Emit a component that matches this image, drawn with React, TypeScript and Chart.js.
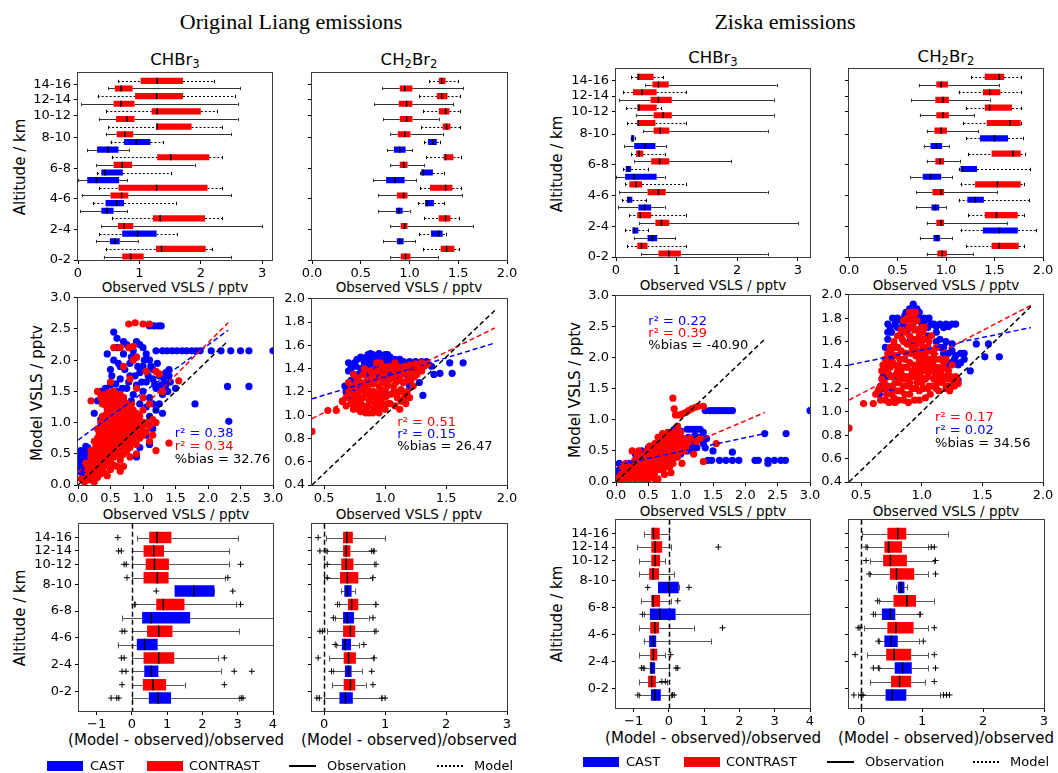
import React, { useEffect, useRef } from 'react';
import { Chart, registerables } from 'chart.js';

Chart.register(...registerables);

const FONT = "'DejaVu Sans', Verdana, sans-serif";
const SERIF = "'Liberation Serif', 'Times New Roman', serif";
const RED = '#ff0000';
const BLUE = '#0000ff';
const SPINE = '#3c3c3c';

// ---------- categorical layout data ----------
const altitudeLabels = ['0-2', '2-4', '4-6', '6-8', '8-10', '10-12', '12-14', '14-16'];
const topTickPositions = [-0.45, 3.55, 7.55, 11.55, 15.55, 18.5, 20.5, 22.5];
const biasTickPositions = [0.5, 2.5, 4.5, 6.5, 8.5, 10, 11, 12];
// boxes bottom -> top in the concentration panels
const topCampaign = ['CONTRAST', 'CONTRAST', 'CAST', 'CAST', 'CONTRAST', 'CONTRAST', 'CAST', 'CAST',
  'CONTRAST', 'CONTRAST', 'CAST', 'CAST', 'CONTRAST', 'CONTRAST', 'CAST', 'CAST',
  'CONTRAST', 'CONTRAST', 'CONTRAST', 'CONTRAST', 'CONTRAST', 'CONTRAST', 'CONTRAST', 'CONTRAST'];
const topSource = ['obs', 'model', 'obs', 'model', 'obs', 'model', 'obs', 'model', 'obs', 'model', 'obs', 'model',
  'obs', 'model', 'obs', 'model', 'obs', 'model', 'obs', 'model', 'obs', 'model', 'obs', 'model'];
// boxes bottom -> top in the bias panels
const biasCampaign = ['CAST', 'CONTRAST', 'CAST', 'CONTRAST', 'CAST', 'CONTRAST', 'CAST', 'CONTRAST',
  'CAST', 'CONTRAST', 'CONTRAST', 'CONTRAST', 'CONTRAST'];

// ---------- box statistics: [whiskerLow, q1, median, q3, whiskerHigh] ----------
const liangCHBr3Boxes = [
  [0.42, 0.72, 0.86, 1.07, 2.5], [0.45, 1.27, 1.36, 2.08, 2.18], [0.3, 0.52, 0.6, 0.68, 0.98], [0.35, 0.72, 0.97, 1.28, 1.62],
  [0.38, 0.65, 0.75, 0.9, 3.0], [0.55, 1.22, 1.34, 2.07, 2.35], [0.04, 0.38, 0.47, 0.58, 0.8], [0.25, 0.45, 0.63, 0.75, 1.6],
  [0.06, 0.53, 0.71, 0.82, 2.5], [0.35, 0.66, 1.28, 2.11, 2.35], [0.0, 0.15, 0.3, 0.67, 0.8], [0.31, 0.38, 0.44, 0.73, 1.52],
  [0.3, 0.58, 0.72, 0.88, 1.9], [0.55, 1.29, 1.51, 2.14, 2.35], [0.15, 0.31, 0.49, 0.66, 0.83], [0.53, 0.75, 0.95, 1.18, 1.39],
  [0.45, 0.63, 0.76, 0.9, 2.49], [0.49, 1.27, 1.29, 1.85, 2.35], [0.34, 0.62, 0.8, 0.92, 2.6], [0.46, 1.2, 1.29, 2.0, 2.27],
  [0.05, 0.58, 0.7, 0.92, 2.6], [0.32, 0.93, 1.28, 1.71, 2.55], [0.49, 0.6, 0.7, 0.89, 2.64], [0.65, 1.02, 1.29, 1.71, 2.22],
];
const liangCH2Br2Boxes = [
  [0.8, 0.91, 0.96, 1.01, 1.29], [1.14, 1.32, 1.38, 1.46, 1.51], [0.73, 0.87, 0.9, 0.94, 1.06], [1.1, 1.22, 1.3, 1.34, 1.37],
  [0.8, 0.91, 0.95, 0.98, 1.65], [1.15, 1.3, 1.37, 1.42, 1.51], [0.68, 0.86, 0.89, 0.93, 1.0], [1.09, 1.16, 1.18, 1.25, 1.35],
  [0.68, 0.87, 0.94, 0.98, 1.54], [1.11, 1.21, 1.37, 1.44, 1.53], [0.63, 0.76, 0.85, 0.95, 1.07], [1.11, 1.12, 1.14, 1.24, 1.35],
  [0.8, 0.9, 0.94, 0.98, 1.15], [1.17, 1.35, 1.37, 1.45, 1.53], [0.77, 0.84, 0.9, 0.96, 1.03], [1.15, 1.19, 1.24, 1.28, 1.31],
  [0.8, 0.88, 0.95, 1.01, 1.34], [1.12, 1.34, 1.38, 1.42, 1.52], [0.73, 0.9, 0.97, 1.03, 1.3], [1.14, 1.3, 1.37, 1.41, 1.52],
  [0.64, 0.89, 0.97, 1.03, 1.45], [1.1, 1.28, 1.33, 1.39, 1.52], [0.72, 0.9, 0.95, 1.03, 1.55], [1.2, 1.3, 1.33, 1.37, 1.5],
];
const ziskaCHBr3Boxes = [
  [0.42, 0.7, 0.87, 1.07, 2.5], [0.18, 0.35, 0.42, 0.52, 1.15], [0.3, 0.52, 0.6, 0.68, 0.98], [0.15, 0.27, 0.3, 0.37, 0.52],
  [0.38, 0.65, 0.75, 0.88, 3.0], [0.22, 0.35, 0.4, 0.58, 1.15], [0.03, 0.37, 0.47, 0.58, 0.8], [0.1, 0.18, 0.21, 0.27, 0.5],
  [0.05, 0.52, 0.7, 0.82, 2.5], [0.15, 0.22, 0.33, 0.43, 1.15], [0.0, 0.15, 0.3, 0.67, 0.8], [0.12, 0.16, 0.2, 0.25, 0.52],
  [0.3, 0.58, 0.72, 0.88, 1.9], [0.25, 0.33, 0.38, 0.45, 0.8], [0.13, 0.3, 0.48, 0.65, 0.82], [0.24, 0.25, 0.27, 0.3, 0.31],
  [0.45, 0.62, 0.73, 0.88, 2.5], [0.18, 0.35, 0.37, 0.65, 1.15], [0.33, 0.62, 0.78, 0.92, 2.6], [0.17, 0.35, 0.38, 0.67, 0.75],
  [0.05, 0.57, 0.7, 0.92, 2.6], [0.12, 0.28, 0.43, 0.67, 1.15], [0.48, 0.6, 0.7, 0.87, 2.65], [0.25, 0.35, 0.37, 0.62, 0.78],
];
const ziskaCH2Br2Boxes = [
  [0.8, 0.91, 0.96, 1.01, 1.28], [1.21, 1.47, 1.55, 1.75, 1.8], [0.73, 0.87, 0.91, 0.94, 1.06], [1.15, 1.38, 1.55, 1.74, 1.93],
  [0.8, 0.9, 0.95, 0.98, 1.63], [1.23, 1.4, 1.52, 1.74, 1.8], [0.69, 0.85, 0.89, 0.93, 1.0], [1.13, 1.22, 1.3, 1.39, 1.86],
  [0.69, 0.86, 0.95, 0.98, 1.53], [1.15, 1.3, 1.53, 1.77, 1.8], [0.63, 0.76, 0.84, 0.95, 1.06], [1.13, 1.15, 1.17, 1.32, 1.87],
  [0.8, 0.89, 0.94, 0.98, 1.14], [1.23, 1.47, 1.69, 1.77, 1.81], [0.77, 0.84, 0.9, 0.96, 1.03], [1.21, 1.35, 1.5, 1.64, 1.79],
  [0.8, 0.88, 0.95, 1.01, 1.33], [1.18, 1.42, 1.66, 1.77, 1.77], [0.73, 0.9, 0.97, 1.03, 1.29], [1.21, 1.4, 1.45, 1.68, 1.77],
  [0.64, 0.89, 0.97, 1.03, 1.45], [1.13, 1.38, 1.45, 1.56, 1.77], [0.72, 0.9, 0.95, 1.02, 1.55], [1.26, 1.4, 1.55, 1.6, 1.77],
];

const liangCHBr3BiasBoxes = [
  [0.0, 0.48, 0.74, 1.11, 3.05], [0.0, 0.31, 0.6, 0.97, 1.5], [0.0, 0.35, 0.55, 0.75, 2.52], [0.0, 0.33, 0.76, 1.2, 2.45],
  [-0.4, 0.14, 0.36, 0.73, 4.3], [0.0, 0.43, 0.76, 1.15, 3.05], [-0.28, 0.29, 0.55, 1.65, 4.3], [0.1, 0.69, 0.89, 1.49, 2.95],
  [1.21, 1.21, 1.76, 2.34, 2.34], [0.0, 0.33, 0.72, 1.04, 2.65], [0.0, 0.39, 0.64, 1.05, 2.76], [0.0, 0.33, 0.62, 0.91, 2.76],
  [0.14, 0.49, 0.71, 1.12, 3.02],
];
const liangCH2Br2BiasBoxes = [
  [0.0, 0.25, 0.35, 0.47, 0.93], [0.13, 0.32, 0.43, 0.51, 0.68], [0.15, 0.34, 0.4, 0.45, 0.62], [0.08, 0.32, 0.4, 0.52, 0.8],
  [0.2, 0.29, 0.34, 0.44, 0.57], [0.05, 0.31, 0.43, 0.51, 0.82], [0.17, 0.31, 0.38, 0.49, 0.73], [0.24, 0.39, 0.45, 0.56, 0.83],
  [0.27, 0.33, 0.38, 0.45, 0.5], [0.0, 0.26, 0.38, 0.56, 0.78], [0.0, 0.28, 0.36, 0.48, 0.82], [0.05, 0.31, 0.36, 0.43, 0.8],
  [0.03, 0.31, 0.37, 0.47, 1.0],
];
const ziskaCHBr3BiasBoxes = [
  [-0.85, -0.51, -0.4, -0.23, 0.05], [-0.85, -0.59, -0.49, -0.37, -0.05], [-0.7, -0.54, -0.49, -0.39, 0.0], [-0.85, -0.53, -0.44, -0.33, -0.1],
  [-0.72, -0.56, -0.44, -0.36, 1.2], [-0.85, -0.53, -0.4, -0.28, 0.7], [-0.7, -0.54, -0.26, 0.19, 4.3], [-0.8, -0.5, -0.45, -0.25, 0.05],
  [-0.31, -0.31, 0.0, 0.28, 0.28], [-0.85, -0.56, -0.45, -0.28, 0.15], [-0.85, -0.5, -0.39, -0.25, -0.1], [-0.9, -0.5, -0.39, -0.19, 0.05],
  [-0.7, -0.5, -0.44, -0.26, 0.0],
];
const ziskaCH2Br2BiasBoxes = [
  [-0.05, 0.4, 0.51, 0.74, 1.3], [0.15, 0.49, 0.63, 0.82, 1.05], [0.3, 0.55, 0.68, 0.83, 1.1], [0.1, 0.41, 0.54, 0.82, 1.1],
  [0.3, 0.38, 0.49, 0.6, 0.95], [0.05, 0.43, 0.57, 0.86, 1.1], [0.22, 0.34, 0.48, 0.56, 0.95], [0.3, 0.53, 0.75, 0.9, 1.2],
  [0.57, 0.6, 0.65, 0.71, 0.75], [0.15, 0.47, 0.58, 0.87, 1.1], [0.15, 0.36, 0.48, 0.75, 1.2], [0.1, 0.38, 0.45, 0.67, 1.1],
  [0.02, 0.43, 0.6, 0.74, 1.42],
];

// ---------- outliers: [value, box index] pairs ----------
const liangCHBr3BiasOutliers = [-0.59, 0, -0.43, 0, -0.37, 0, 3.1, 0, 3.15, 0, -0.28, 1, 2.62, 1, -0.28, 2, -0.17, 2, 2.9, 2, 3.4, 2,
  -0.3, 3, -0.22, 3, 2.62, 3, -0.28, 5, -0.2, 5, 0.07, 7, 3.08, 7, 0.69, 8, 2.86, 8, -0.14, 9, 2.72, 9,
  -0.22, 10, -0.16, 10, 3.08, 10, -0.38, 11, -0.3, 11, -0.4, 12];
const liangCH2Br2BiasOutliers = [-0.12, 0, -0.08, 0, 0.95, 0, 1.0, 0, 0.8, 1, 0.12, 2, 0.78, 2, -0.1, 3, 0.82, 3, 0.18, 4, 0.65, 4,
  -0.07, 5, -0.03, 5, 0.85, 5, 0.15, 6, 0.8, 6, 0.22, 7, 0.85, 7, 0.05, 9, 0.8, 9, 0.05, 10, 0.85, 10,
  -0.07, 11, 0.03, 11, 0.78, 11, 0.82, 11, -0.1, 12];
const ziskaCHBr3BiasOutliers = [-0.88, 0, 0.1, 0, 0.15, 0, -0.2, 1, -0.1, 1, -0.73, 2, -0.78, 2, 0.2, 2, 0.25, 2, 0.05, 3, 1.52, 5,
  -0.75, 6, 0.25, 7, -0.6, 8, 0.57, 8, 1.4, 11];
const ziskaCH2Br2BiasOutliers = [-0.12, 0, 0.0, 0, 0.03, 0, 1.35, 0, 1.4, 0, 1.45, 0, 1.2, 1, 0.2, 2, 0.28, 2, 1.22, 2, -0.1, 3, 1.2, 3,
  0.28, 4, 1.02, 4, -0.05, 5, -0.02, 5, 1.2, 5, 0.2, 6, 0.97, 6, 0.27, 7, 0.13, 9, 1.22, 9, 0.08, 10, 1.22, 10,
  0.08, 11, 1.15, 11, 1.2, 11];

// ---------- scatter data: [observed, model] pairs ----------
const liangCHBr3CastPts = [
  0.02, 0.3, 0.05, 0.42, 0.08, 0.52, 0.1, 0.35, 0.12, 0.45, 0.15, 0.3, 0.18, 0.5, 0.2, 0.38, 0.22, 0.55, 0.25, 0.45, 0.28, 0.32,
  0.3, 0.5, 0.05, 0.2, 0.1, 0.15, 0.15, 0.6, 0.35, 0.4, 0.04, 0.55, 0.12, 0.62,
  0.0, 0.4, 0.03, 0.48, 0.07, 0.38, 0.13, 0.55, 0.17, 0.4, 0.23, 0.38, 0.27, 0.5, 0.33, 0.45, 0.07, 0.25,
  0.4, 0.9, 0.5, 1.1, 0.55, 0.7, 0.7, 1.05, 0.75, 0.6, 0.85, 0.9, 0.95, 0.6, 1.0, 1.0, 1.05, 0.8, 1.1, 1.1, 1.15, 0.9, 1.2, 1.2,
  1.25, 1.3, 1.3, 1.15, 0.9, 0.45, 1.1, 0.65,
  0.3, 1.35, 0.35, 1.5, 0.4, 1.3, 0.45, 1.45, 0.5, 1.6, 0.55, 1.35, 0.6, 1.5, 0.65, 1.7, 0.7, 1.4, 0.75, 1.55, 0.8, 1.75, 0.85, 1.45,
  0.9, 1.6, 0.95, 1.8, 1.0, 1.5, 1.05, 1.65, 1.1, 1.4, 1.15, 1.7, 1.2, 1.55, 1.25, 1.75, 1.3, 1.45, 1.35, 1.6, 1.4, 1.75, 1.05, 1.25,
  0.95, 1.3, 1.15, 1.3, 0.25, 1.15,
  0.52, 1.75, 0.58, 1.62, 0.62, 1.95, 0.68, 1.55, 0.72, 1.85, 0.78, 1.65, 0.82, 2.05, 0.88, 1.75, 0.92, 1.9, 0.98, 1.65, 1.02, 2.0,
  1.08, 1.75, 1.12, 1.9, 1.18, 1.62, 1.22, 1.95, 1.28, 1.6, 1.32, 1.7, 1.38, 1.5, 1.42, 1.65, 0.62, 1.38, 0.72, 1.3, 0.82, 1.35,
  0.48, 1.45, 0.42, 1.55, 0.38, 1.4,
  0.5, 1.85, 0.55, 2.0, 0.6, 2.2, 0.65, 1.9, 0.7, 2.1, 0.75, 2.25, 0.8, 1.95, 0.85, 2.15, 0.9, 2.05, 0.95, 2.25, 1.0, 1.9, 1.05, 2.1,
  1.1, 2.0, 1.15, 1.85, 1.2, 2.15, 0.45, 2.1, 0.6, 2.35, 0.7, 2.3, 0.9, 2.3, 1.0, 2.2,
  1.1, 2.55, 1.17, 2.55, 1.24, 2.55, 1.28, 2.55, 0.55, 2.45,
  1.3, 2.15, 1.37, 2.15, 1.45, 2.15, 1.52, 2.15, 1.6, 2.15, 1.67, 2.15, 1.75, 2.15, 1.82, 2.15, 1.88, 2.15, 2.05, 2.15, 2.2, 2.15,
  2.35, 2.15, 2.5, 2.15, 2.63, 2.15, 3.0, 2.15,
  2.3, 1.58, 2.63, 1.58, 1.8, 1.3, 2.32, 1.02, 1.4, 1.85, 1.35, 1.8, 1.5, 1.55, 0.35, 1.05,
];
const liangCHBr3ContrastPts = [
  0.2, 0.2, 0.2, 0.3, 0.2, 0.35, 0.2, 0.45,
  0.25, 0.15, 0.25, 0.25, 0.25, 0.4, 0.25, 0.55, 0.25, 0.7,
  0.3, 0.2, 0.3, 0.3, 0.3, 0.45, 0.3, 0.6, 0.3, 0.75, 0.3, 0.9,
  0.35, 0.25, 0.35, 0.4, 0.35, 0.5, 0.35, 0.65, 0.35, 0.8, 0.35, 1.0, 0.35, 1.4,
  0.4, 0.3, 0.4, 0.45, 0.4, 0.55, 0.4, 0.7, 0.4, 0.85, 0.4, 1.0, 0.4, 1.35, 0.4, 1.45,
  0.45, 0.35, 0.45, 0.5, 0.45, 0.6, 0.45, 0.75, 0.45, 0.9, 0.45, 1.05, 0.45, 1.2, 0.45, 1.4,
  0.5, 0.4, 0.5, 0.55, 0.5, 0.7, 0.5, 0.8, 0.5, 0.95, 0.5, 1.1, 0.5, 1.3, 0.5, 1.45,
  0.55, 0.45, 0.55, 0.6, 0.55, 0.75, 0.55, 0.9, 0.55, 1.0, 0.55, 1.15, 0.55, 1.35, 0.55, 1.5,
  0.6, 0.5, 0.6, 0.65, 0.6, 0.8, 0.6, 0.95, 0.6, 1.05, 0.6, 1.2, 0.6, 1.4,
  0.65, 0.4, 0.65, 0.6, 0.65, 0.75, 0.65, 0.9, 0.65, 1.0, 0.65, 1.15, 0.65, 1.3, 0.65, 1.45,
  0.7, 0.5, 0.7, 0.7, 0.7, 0.85, 0.7, 1.0, 0.7, 1.1, 0.7, 1.25, 0.7, 1.4,
  0.75, 0.55, 0.75, 0.75, 0.75, 0.9, 0.75, 1.05, 0.75, 1.2, 0.75, 1.3,
  0.8, 0.6, 0.8, 0.8, 0.8, 0.95, 0.8, 1.1, 0.8, 1.25,
  0.85, 0.7, 0.85, 0.9, 0.85, 1.05, 0.85, 1.2,
  0.9, 0.65, 0.9, 0.85, 0.9, 1.0, 0.9, 1.15,
  0.95, 0.75, 0.95, 0.9, 0.95, 1.1,
  1.0, 0.8, 1.0, 0.95, 1.0, 1.2,
  0.225, 0.22, 0.225, 0.38, 0.225, 0.5, 0.275, 0.2, 0.275, 0.33, 0.275, 0.48, 0.275, 0.62,
  0.325, 0.25, 0.325, 0.38, 0.325, 0.52, 0.325, 0.68, 0.325, 0.83,
  0.375, 0.32, 0.375, 0.45, 0.375, 0.58, 0.375, 0.72, 0.375, 0.9, 0.375, 1.1, 0.375, 1.3,
  0.425, 0.38, 0.425, 0.5, 0.425, 0.62, 0.425, 0.78, 0.425, 0.95, 0.425, 1.12, 0.425, 1.28, 0.425, 1.42,
  0.475, 0.42, 0.475, 0.55, 0.475, 0.68, 0.475, 0.85, 0.475, 1.0, 0.475, 1.15, 0.475, 1.32, 0.475, 1.48,
  0.525, 0.48, 0.525, 0.62, 0.525, 0.75, 0.525, 0.88, 0.525, 1.02, 0.525, 1.2, 0.525, 1.38,
  0.575, 0.52, 0.575, 0.68, 0.575, 0.82, 0.575, 0.97, 0.575, 1.1, 0.575, 1.25, 0.575, 1.42,
  0.625, 0.55, 0.625, 0.72, 0.625, 0.87, 0.625, 1.0, 0.625, 1.12, 0.625, 1.28, 0.625, 1.45,
  0.675, 0.48, 0.675, 0.65, 0.675, 0.8, 0.675, 0.95, 0.675, 1.08, 0.675, 1.2, 0.675, 1.35,
  0.725, 0.6, 0.725, 0.78, 0.725, 0.92, 0.725, 1.05, 0.725, 1.18, 0.725, 1.32,
  0.775, 0.65, 0.775, 0.82, 0.775, 0.98, 0.775, 1.12, 0.775, 1.25,
  0.825, 0.72, 0.825, 0.88, 0.825, 1.02, 0.825, 1.15, 0.825, 1.3,
  0.875, 0.78, 0.875, 0.95, 0.875, 1.1, 0.925, 0.8, 0.925, 0.95, 0.925, 1.05, 0.975, 0.85, 0.975, 1.0,
  1.05, 0.85, 1.1, 0.95, 1.15, 0.8, 1.2, 1.0, 0.15, 0.25, 0.18, 0.08, 0.25, 0.05, 0.4, 0.2,
  0.1, 0.05, 0.05, 0.1, 0.15, 0.15, 0.3, 0.12, 0.5, 0.25, 0.6, 0.3, 0.7, 0.3, 0.45, 0.15, 0.2, 0.55, 0.12, 0.35, 0.65, 0.22,
  0.9, 0.5, 1.1, 0.7, 1.05, 1.0, 1.1, 1.3, 1.15, 1.05, 1.2, 0.55, 1.4, 0.67, 1.55, 1.67, 1.0, 1.4, 1.2, 1.82, 1.05, 1.82,
  0.85, 2.0, 0.78, 2.2, 0.65, 2.2, 0.55, 2.2, 0.85, 2.22, 0.9, 2.05, 0.78, 2.58, 0.88, 2.6, 1.0, 2.58, 1.1, 2.58,
  0.8, 1.7, 0.7, 1.9, 0.9, 1.55, 1.25, 1.78, 1.3, 1.5, 0.5, 1.65, 0.3, 1.5, 0.2, 1.35, 0.35, 0.18, 0.8, 0.45, 0.55, 0.32,
];
const liangCH2Br2CastPts = [
  0.7, 1.45, 0.72, 1.3, 0.75, 1.45, 0.8, 1.4, 0.85, 1.5, 0.88, 1.53, 0.9, 1.45, 0.92, 1.5, 0.95, 1.53, 0.98, 1.5, 1.0, 1.47,
  1.02, 1.52, 1.05, 1.45, 1.08, 1.48, 1.1, 1.45, 1.15, 1.46, 1.2, 1.46, 1.25, 1.46, 1.3, 1.46, 1.34, 1.46, 0.82, 1.48,
  0.87, 1.42, 0.93, 1.4, 1.0, 1.4, 1.06, 1.38, 1.12, 1.4, 0.78, 1.35, 0.85, 1.35, 0.95, 1.33, 1.02, 1.3, 1.1, 1.32, 1.18, 1.35,
  1.22, 1.4, 1.28, 1.38, 0.75, 1.22, 0.8, 1.25, 0.7, 1.15, 0.65, 1.12, 1.15, 1.28, 1.2, 1.25, 1.4, 1.35, 1.45, 1.36,
  1.55, 1.36, 1.53, 1.45, 1.64, 1.45, 1.31, 1.17, 1.38, 1.42, 0.9, 1.2, 1.0, 1.2, 0.68, 1.2, 1.28, 1.28,
  0.72, 1.4, 0.77, 1.48, 0.83, 1.45, 0.86, 1.52, 0.9, 1.52, 0.94, 1.47, 0.97, 1.45, 1.0, 1.52, 1.04, 1.5, 1.07, 1.42, 1.12, 1.48,
  1.17, 1.43, 1.22, 1.45, 1.27, 1.42, 1.32, 1.44, 0.76, 1.42, 0.8, 1.5, 0.88, 1.47, 0.96, 1.39, 1.03, 1.36, 1.13, 1.36, 1.24, 1.37,
  0.7, 1.38, 0.67, 1.25, 0.73, 1.18,
];
const liangCH2Br2ContrastPts = [
  0.4, 0.86, 0.53, 1.04, 0.6, 1.04, 0.65, 1.12, 0.68, 1.15, 0.7, 1.2, 0.72, 1.1, 0.75, 1.15, 0.75, 1.25, 0.78, 1.05, 0.78, 1.2,
  0.8, 1.1, 0.8, 1.28, 0.82, 1.15, 0.83, 1.22, 0.85, 1.05, 0.85, 1.3, 0.87, 1.12, 0.88, 1.2, 0.9, 1.02, 0.9, 1.27, 0.9, 1.35,
  0.92, 1.1, 0.93, 1.18, 0.95, 1.25, 0.95, 1.05, 0.97, 1.32, 0.98, 1.15, 1.0, 1.22, 1.0, 1.38, 1.02, 1.1, 1.03, 1.3, 1.05, 1.18,
  1.05, 1.4, 1.07, 1.25, 1.08, 1.35, 1.1, 1.15, 1.1, 1.42, 1.12, 1.3, 1.13, 1.22, 1.15, 1.38, 1.17, 1.1, 1.18, 1.3, 1.2, 1.43,
  1.22, 1.36, 1.25, 1.44, 1.27, 1.4, 1.3, 1.45, 1.32, 1.42, 1.35, 1.44, 1.12, 1.05, 0.88, 1.38, 0.82, 1.35, 0.98, 1.42,
  0.72, 1.25, 0.84, 1.02, 0.96, 1.45, 1.15, 1.2, 1.2, 1.15, 1.23, 1.25,
  0.68, 1.08, 0.7, 1.28, 0.73, 1.18, 0.74, 1.05, 0.76, 1.1, 0.77, 1.3, 0.79, 1.15, 0.8, 1.03, 0.81, 1.22, 0.82, 1.08, 0.84, 1.18,
  0.84, 1.28, 0.86, 1.08, 0.86, 1.25, 0.87, 1.02, 0.88, 1.15, 0.89, 1.32, 0.91, 1.2, 0.91, 1.06, 0.92, 1.3, 0.93, 1.14, 0.94, 1.38,
  0.95, 1.02, 0.96, 1.2, 0.97, 1.1, 0.98, 1.28, 0.99, 1.35, 1.0, 1.05, 1.01, 1.16, 1.02, 1.25, 1.03, 1.42, 1.04, 1.1, 1.06, 1.32,
  1.07, 1.2, 1.08, 1.08, 1.09, 1.28, 1.1, 1.38, 1.11, 1.2, 1.13, 1.12, 1.14, 1.35, 1.15, 1.28, 1.16, 1.42, 1.18, 1.2, 1.19, 1.36,
  1.21, 1.3, 1.24, 1.33, 1.26, 1.35, 1.28, 1.43, 1.3, 1.38, 1.16, 1.15, 0.74, 1.35, 0.78, 1.32, 0.83, 1.4, 0.93, 1.45, 1.08, 1.45,
];
const ziskaCHBr3CastPts = [
  0.02, 0.15, 0.05, 0.2, 0.08, 0.12, 0.1, 0.18, 0.12, 0.25, 0.15, 0.15, 0.18, 0.22, 0.2, 0.3, 0.22, 0.1, 0.25, 0.2, 0.28, 0.28,
  0.3, 0.15, 0.32, 0.35, 0.35, 0.22, 0.38, 0.3, 0.4, 0.4, 0.42, 0.18, 0.45, 0.3, 0.48, 0.38, 0.5, 0.25, 0.52, 0.45, 0.55, 0.35,
  0.58, 0.28, 0.6, 0.42, 0.62, 0.5, 0.65, 0.35, 0.68, 0.45, 0.7, 0.55, 0.72, 0.3, 0.75, 0.4, 0.78, 0.5, 0.8, 0.6, 0.82, 0.35,
  0.85, 0.45, 0.88, 0.55, 0.9, 0.65, 0.92, 0.4, 0.95, 0.5, 0.98, 0.6, 1.0, 0.45, 1.02, 0.7, 1.05, 0.55, 1.08, 0.62, 1.1, 0.5,
  1.12, 0.72, 1.15, 0.6, 1.18, 0.5, 1.2, 0.65, 1.22, 0.75, 1.25, 0.55, 1.28, 0.68, 1.3, 0.72, 1.35, 0.62, 1.38, 0.55, 1.4, 0.7,
  1.1, 0.85, 1.15, 0.85, 1.2, 0.85, 1.25, 0.85, 1.3, 0.85, 1.35, 0.8,
  1.38, 1.15, 1.45, 1.15, 1.5, 1.15, 1.55, 1.15, 1.6, 1.15, 1.65, 1.15, 1.7, 1.15, 1.75, 1.15, 1.8, 1.15, 3.0, 1.15,
  1.42, 0.35, 1.48, 0.35, 1.6, 0.35, 1.7, 0.35, 1.8, 0.35, 1.9, 0.35, 2.15, 0.35, 2.2, 0.35, 2.35, 0.35, 2.45, 0.35, 2.55, 0.35,
  2.62, 0.35, 2.3, 0.78, 2.63, 0.78, 1.8, 0.48, 2.35, 0.3, 0.5, 0.55, 0.4, 0.5, 0.3, 0.45, 0.05, 0.3, 0.9, 0.85, 1.0, 0.82, 1.5, 0.5,
];
const ziskaCHBr3ContrastPts = [
  0.05, 0.05, 0.08, 0.12, 0.1, 0.02, 0.12, 0.08, 0.15, 0.15, 0.18, 0.05, 0.2, 0.1, 0.22, 0.2, 0.25, 0.12, 0.25, 0.5, 0.28, 0.25,
  0.3, 0.05, 0.3, 0.18, 0.32, 0.3, 0.35, 0.1, 0.35, 0.22, 0.38, 0.35, 0.4, 0.15, 0.4, 0.28, 0.42, 0.42, 0.45, 0.08, 0.45, 0.2,
  0.45, 0.33, 0.48, 0.5, 0.5, 0.15, 0.5, 0.27, 0.5, 0.4, 0.52, 0.58, 0.55, 0.1, 0.55, 0.22, 0.55, 0.35, 0.55, 0.48, 0.58, 0.3,
  0.6, 0.15, 0.6, 0.42, 0.6, 0.62, 0.62, 0.25, 0.62, 0.52, 0.65, 0.35, 0.65, 0.72, 0.68, 0.2, 0.68, 0.45, 0.7, 0.58, 0.7, 0.3,
  0.72, 0.7, 0.75, 0.4, 0.75, 0.5, 0.75, 0.62, 0.78, 0.25, 0.78, 0.72, 0.8, 0.55, 0.8, 0.38, 0.82, 0.65, 0.85, 0.45, 0.85, 0.75,
  0.88, 0.3, 0.88, 0.58, 0.9, 0.8, 0.9, 0.5, 0.92, 0.68, 0.95, 0.4, 0.95, 0.58, 0.98, 0.75, 1.0, 0.5, 1.0, 0.65, 1.02, 0.3,
  1.05, 0.7, 1.08, 0.55, 1.1, 0.62, 1.15, 0.7, 1.2, 0.45, 1.25, 0.65, 1.3, 0.7, 1.35, 0.33, 1.55, 0.62,
  0.88, 1.35, 0.9, 1.18, 0.92, 1.08, 0.98, 1.08, 1.03, 1.1, 1.08, 1.12, 1.12, 1.15, 1.17, 1.18, 1.22, 1.2, 1.27, 1.22, 1.35, 1.22,
  0.72, 0.78, 0.8, 0.8, 1.0, 0.8, 0.95, 0.9, 0.15, 0.3, 0.1, 0.25, 0.35, 0.5, 0.65, 0.05, 0.75, 0.12, 0.85, 0.15,
  0.07, 0.08, 0.13, 0.18, 0.17, 0.1, 0.2, 0.25, 0.23, 0.06, 0.27, 0.18, 0.29, 0.35, 0.33, 0.12, 0.33, 0.42, 0.37, 0.18, 0.37, 0.28,
  0.41, 0.35, 0.43, 0.05, 0.43, 0.25, 0.47, 0.14, 0.47, 0.42, 0.49, 0.32, 0.52, 0.2, 0.52, 0.35, 0.53, 0.5, 0.57, 0.18, 0.57, 0.42,
  0.59, 0.55, 0.61, 0.32, 0.63, 0.45, 0.63, 0.62, 0.66, 0.25, 0.66, 0.55, 0.69, 0.38, 0.69, 0.65, 0.71, 0.45, 0.73, 0.2, 0.73, 0.55,
  0.76, 0.3, 0.77, 0.68, 0.79, 0.45, 0.81, 0.6, 0.83, 0.25, 0.84, 0.52, 0.86, 0.65, 0.87, 0.38, 0.89, 0.7, 0.91, 0.45, 0.93, 0.58,
  0.96, 0.66, 0.97, 0.48, 1.03, 0.6, 1.06, 0.5, 0.6, 0.05, 0.5, 0.05, 0.4, 0.02,
];
const ziskaCH2Br2CastPts = [
  0.65, 1.15, 0.68, 1.2, 0.7, 1.3, 0.72, 1.62, 0.72, 1.75, 0.75, 1.68, 0.78, 1.75, 0.8, 1.8, 0.82, 1.65, 0.85, 1.75, 0.87, 1.85,
  0.88, 1.7, 0.9, 1.82, 0.92, 1.75, 0.93, 1.92, 0.95, 1.8, 0.97, 1.7, 0.98, 1.85, 1.0, 1.75, 1.02, 1.8, 1.05, 1.72, 1.08, 1.75,
  1.1, 1.75, 1.15, 1.75, 1.2, 1.75, 1.25, 1.75, 1.28, 1.75, 1.12, 1.6, 1.15, 1.55, 1.18, 1.5, 1.22, 1.5, 1.25, 1.52, 1.28, 1.48,
  1.32, 1.5, 1.35, 1.45, 1.3, 1.4, 1.25, 1.42, 1.2, 1.38, 1.1, 1.45, 1.05, 1.55, 1.0, 1.62, 0.95, 1.6, 0.9, 1.6, 0.8, 1.55,
  0.75, 1.45, 0.7, 1.4, 0.8, 1.3, 0.9, 1.3, 1.0, 1.35, 1.1, 1.35, 1.15, 1.3, 1.3, 1.27, 1.45, 1.58, 1.55, 1.58, 1.52, 1.47,
  1.64, 1.47, 1.4, 1.35, 1.35, 1.5, 0.75, 1.2, 1.05, 1.65, 1.12, 1.68,
  0.74, 1.72, 0.76, 1.8, 0.8, 1.72, 0.83, 1.78, 0.86, 1.82, 0.9, 1.88, 0.93, 1.8, 0.96, 1.88, 0.99, 1.8, 1.03, 1.78, 1.06, 1.8,
  1.12, 1.73, 1.18, 1.72, 1.22, 1.73, 1.15, 1.62, 1.2, 1.6, 1.25, 1.58, 1.18, 1.55, 1.27, 1.45, 1.32, 1.42, 1.22, 1.42,
  0.68, 1.3, 0.66, 1.22, 0.7, 1.55, 0.72, 1.68,
];
const ziskaCH2Br2ContrastPts = [
  0.4, 0.86, 0.52, 1.07, 0.6, 1.07, 0.62, 1.15, 0.65, 1.2, 0.67, 1.28, 0.7, 1.1, 0.7, 1.35, 0.72, 1.22, 0.72, 1.42, 0.75, 1.15,
  0.75, 1.3, 0.75, 1.5, 0.78, 1.08, 0.78, 1.25, 0.78, 1.4, 0.8, 1.18, 0.8, 1.35, 0.8, 1.55, 0.82, 1.28, 0.82, 1.45, 0.85, 1.1,
  0.85, 1.22, 0.85, 1.38, 0.85, 1.6, 0.87, 1.3, 0.87, 1.5, 0.88, 1.8, 0.9, 1.15, 0.9, 1.25, 0.9, 1.42, 0.9, 1.65, 0.9, 1.85,
  0.92, 1.35, 0.92, 1.55, 0.93, 1.75, 0.95, 1.2, 0.95, 1.3, 0.95, 1.48, 0.95, 1.62, 0.97, 1.4, 0.97, 1.7, 0.98, 1.1, 1.0, 1.25,
  1.0, 1.35, 1.0, 1.5, 1.0, 1.6, 1.02, 1.45, 1.02, 1.72, 1.05, 1.2, 1.05, 1.3, 1.05, 1.4, 1.05, 1.55, 1.08, 1.65, 1.1, 1.28,
  1.1, 1.38, 1.1, 1.5, 1.12, 1.2, 1.15, 1.45, 1.15, 1.3, 1.18, 1.38, 1.2, 1.2, 1.22, 1.28, 1.25, 1.22, 1.25, 1.4, 1.28, 1.3,
  1.2, 1.45, 0.83, 1.7, 0.87, 1.78, 0.93, 1.83, 0.97, 1.58, 0.68, 1.4,
  0.64, 1.18, 0.66, 1.1, 0.67, 1.35, 0.69, 1.25, 0.7, 1.45, 0.71, 1.15, 0.73, 1.32, 0.73, 1.08, 0.74, 1.38, 0.74, 1.55, 0.76, 1.22,
  0.76, 1.42, 0.77, 1.12, 0.77, 1.6, 0.79, 1.32, 0.79, 1.48, 0.8, 1.65, 0.81, 1.1, 0.81, 1.25, 0.81, 1.4, 0.83, 1.18, 0.83, 1.33,
  0.83, 1.52, 0.84, 1.62, 0.86, 1.15, 0.86, 1.28, 0.86, 1.45, 0.86, 1.68, 0.88, 1.22, 0.88, 1.38, 0.88, 1.58, 0.89, 1.08, 0.89, 1.72,
  0.91, 1.3, 0.91, 1.5, 0.91, 1.78, 0.92, 1.2, 0.92, 1.62, 0.94, 1.1, 0.94, 1.4, 0.94, 1.55, 0.94, 1.7, 0.95, 1.85, 0.96, 1.25,
  0.96, 1.35, 0.96, 1.52, 0.98, 1.18, 0.98, 1.45, 0.98, 1.65, 0.99, 1.3, 1.01, 1.2, 1.01, 1.4, 1.01, 1.55, 1.01, 1.68, 1.03, 1.12,
  1.03, 1.28, 1.03, 1.5, 1.03, 1.62, 1.04, 1.35, 1.06, 1.22, 1.06, 1.45, 1.06, 1.6, 1.07, 1.15, 1.07, 1.35, 1.08, 1.52, 1.09, 1.22,
  1.09, 1.42, 1.11, 1.32, 1.11, 1.45, 1.12, 1.55, 1.13, 1.25, 1.13, 1.38, 1.14, 1.18, 1.16, 1.35, 1.17, 1.25, 1.18, 1.42, 1.19, 1.3,
  1.21, 1.22, 1.22, 1.35, 1.23, 1.18, 1.24, 1.3, 1.26, 1.26, 1.27, 1.22, 1.29, 1.28, 1.3, 1.24, 0.85, 1.78, 0.9, 1.72, 0.92, 1.85,
  0.96, 1.78, 1.0, 1.72, 0.78, 1.55, 0.72, 1.5, 0.7, 1.2,
];

// ---------- fitted / 1:1 lines: [x0, y0, x1, y1] ----------
const liangCHBr3OneToOne = [0, 0, 2.3, 2.3];
const liangCHBr3FitContrast = [0, 0.2, 2.31, 2.6];
const liangCHBr3FitCast = [0, 0.72, 2.31, 2.48];
const liangCH2Br2OneToOne = [0.4, 0.4, 1.9, 1.9];
const liangCH2Br2FitContrast = [0.4, 0.97, 1.9, 1.75];
const liangCH2Br2FitCast = [0.4, 1.14, 1.9, 1.62];
const ziskaCHBr3OneToOne = [0, 0, 2.3, 2.3];
const ziskaCHBr3FitContrast = [0, 0.1, 2.3, 1.12];
const ziskaCHBr3FitCast = [0, 0.27, 2.3, 0.78];
const ziskaCH2Br2OneToOne = [0.4, 0.4, 1.9, 1.9];
const ziskaCH2Br2FitContrast = [0.4, 1.1, 1.9, 1.91];
const ziskaCH2Br2FitCast = [0.4, 1.4, 1.9, 1.72];

// ---------- statistics text ----------
const liangCHBr3Stats = ['r\u00b2 = 0.38', 'r\u00b2 = 0.34', '%bias = 32.76'];
const liangCH2Br2Stats = ['r\u00b2 = 0.51', 'r\u00b2 = 0.15', '%bias = 26.47'];
const ziskaCHBr3Stats = ['r\u00b2 = 0.22', 'r\u00b2 = 0.39', '%bias = -40.90'];
const ziskaCH2Br2Stats = ['r\u00b2 = 0.17', 'r\u00b2 = 0.02', '%bias = 34.56'];

// ---------- tick values ----------
const chbr3ObsTicks = [0, 1, 2, 3];
const ch2br2ObsTicks = [0, 0.5, 1.0, 1.5, 2.0];
const chbr3ScatterTicks = [0, 0.5, 1.0, 1.5, 2.0, 2.5, 3.0];
const ch2br2ScatterXTicks = [0.5, 1.0, 1.5, 2.0];
const ch2br2ScatterYTicks = [0.4, 0.6, 0.8, 1.0, 1.2, 1.4, 1.6, 1.8, 2.0];
const chbr3BiasTicks = [-1, 0, 1, 2, 3, 4];
const ch2br2BiasTicks = [0, 1, 2, 3];

// ---------- layout constants ----------
const PT = 10, PR = 20, YW = 60, XH = 28;
const panels = {
  LT1: { l: 78, t: 72, w: 194, h: 188 },
  LT2: { l: 312, t: 72, w: 195, h: 188 },
  LM1: { l: 78, t: 297, w: 195, h: 188 },
  LM2: { l: 312, t: 298, w: 195, h: 187 },
  LB1: { l: 79, t: 523, w: 194, h: 188 },
  LB2: { l: 312, t: 523, w: 195, h: 188 },
  RT1: { l: 616, t: 68, w: 194, h: 189 },
  RT2: { l: 849, t: 68, w: 194, h: 189 },
  RM1: { l: 616, t: 295, w: 194, h: 187 },
  RM2: { l: 849, t: 294, w: 194, h: 188 },
  RB1: { l: 616, t: 519, w: 194, h: 189 },
  RB2: { l: 849, t: 519, w: 195, h: 189 },
};

const toPts = (a) => {
  const out = [];
  for (let i = 0; i < a.length; i += 2) out.push({ x: a[i], y: a[i + 1] });
  return out;
};

const fmt1 = (v) => Number(v).toFixed(1);
const fmtInt = (v) => (v < 0 ? '\u2212' + Math.abs(v) : String(v));

function axisCfg(min, max, ticksArr, fmt, isY, showLabels = true) {
  return {
    type: 'linear',
    min,
    max,
    offset: false,
    afterBuildTicks: (s) => { s.ticks = ticksArr.map((v) => ({ value: v })); },
    afterFit: (s) => { if (isY) s.width = YW; else s.height = XH; },
    ticks: {
      callback: (v, i) => (showLabels ? fmt(v, i) : ''),
      font: { family: FONT, size: 13 },
      color: '#000',
      padding: isY ? 3 : 2,
      autoSkip: false,
      maxRotation: 0,
      minRotation: 0,
    },
    grid: { display: true, drawOnChartArea: false, drawTicks: true, tickLength: 4, color: '#000', lineWidth: 1, offset: false },
    border: { display: false },
  };
}

const bgPlugin = {
  id: 'whiteBg',
  beforeDraw(chart) {
    const { ctx, chartArea: a } = chart;
    ctx.save();
    ctx.fillStyle = '#fff';
    ctx.fillRect(a.left, a.top, a.right - a.left, a.bottom - a.top);
    ctx.restore();
  },
};

const framePlugin = {
  id: 'frame',
  afterDraw(chart) {
    const { ctx, chartArea: a } = chart;
    ctx.save();
    ctx.strokeStyle = SPINE;
    ctx.lineWidth = 1;
    ctx.strokeRect(Math.round(a.left) - 0.5, Math.round(a.top) - 0.5, Math.round(a.right - a.left) + 1, Math.round(a.bottom - a.top) + 1);
    ctx.restore();
  },
};

function boxPlugin(stats, dashed, whiskerColor, halfBox, halfCap, zeroLine) {
  return {
    id: 'boxWhisker',
    beforeDatasetsDraw(chart) {
      const { ctx, chartArea: a, scales } = chart;
      const xs = scales.x, ys = scales.y;
      ctx.save();
      ctx.beginPath();
      ctx.rect(a.left, a.top, a.right - a.left, a.bottom - a.top);
      ctx.clip();
      stats.forEach((s, i) => {
        const py = Math.round(ys.getPixelForValue(i)) + 0.5;
        const cap = Math.abs(ys.getPixelForValue(i + halfCap) - ys.getPixelForValue(i));
        const px = (v) => xs.getPixelForValue(v);
        ctx.strokeStyle = whiskerColor[i];
        ctx.lineWidth = 1;
        ctx.setLineDash(dashed[i] ? [2, 2] : []);
        ctx.beginPath();
        ctx.moveTo(px(s[0]), py); ctx.lineTo(px(s[1]), py);
        ctx.moveTo(px(s[3]), py); ctx.lineTo(px(s[4]), py);
        ctx.stroke();
        ctx.setLineDash([]);
        ctx.beginPath();
        ctx.moveTo(Math.round(px(s[0])) + 0.5, py - cap); ctx.lineTo(Math.round(px(s[0])) + 0.5, py + cap);
        ctx.moveTo(Math.round(px(s[4])) + 0.5, py - cap); ctx.lineTo(Math.round(px(s[4])) + 0.5, py + cap);
        ctx.stroke();
      });
      if (zeroLine) {
        const zx = Math.round(xs.getPixelForValue(0)) + 0.5;
        ctx.strokeStyle = '#000';
        ctx.lineWidth = 1.5;
        ctx.setLineDash([5, 3]);
        ctx.beginPath();
        ctx.moveTo(zx, a.top); ctx.lineTo(zx, a.bottom);
        ctx.stroke();
      }
      ctx.restore();
    },
    afterDatasetsDraw(chart) {
      const { ctx, chartArea: a, scales } = chart;
      const xs = scales.x, ys = scales.y;
      ctx.save();
      ctx.beginPath();
      ctx.rect(a.left, a.top, a.right - a.left, a.bottom - a.top);
      ctx.clip();
      ctx.strokeStyle = '#000';
      ctx.lineWidth = 1.5;
      stats.forEach((s, i) => {
        const py = ys.getPixelForValue(i);
        const hh = Math.abs(ys.getPixelForValue(i + halfBox) - py);
        const mx = xs.getPixelForValue(s[2]);
        ctx.beginPath();
        ctx.moveTo(mx, py - hh); ctx.lineTo(mx, py + hh);
        ctx.stroke();
      });
      ctx.restore();
    },
  };
}

function notesPlugin(notes) {
  return {
    id: 'notes',
    afterDatasetsDraw(chart) {
      const { ctx, scales } = chart;
      ctx.save();
      ctx.font = `13px ${FONT}`;
      ctx.textBaseline = 'middle';
      ctx.textAlign = 'left';
      notes.forEach((n) => {
        ctx.fillStyle = n.color;
        ctx.fillText(n.text, scales.x.getPixelForValue(n.x), scales.y.getPixelForValue(n.y));
      });
      ctx.restore();
    },
  };
}

const baseOptions = (scales, indexAxis) => ({
  indexAxis,
  animation: false,
  responsive: false,
  events: [],
  layout: { padding: { top: PT, right: PR, left: 0, bottom: 0 } },
  plugins: { legend: { display: false }, tooltip: { enabled: false }, title: { display: false } },
  scales,
});

function makeTopConfig(stats, xMax, xTicks, xFmt, showY) {
  const colors = topCampaign.map((c) => (c === 'CAST' ? BLUE : RED));
  const dashed = topSource.map((s) => s === 'model');
  const wcol = topSource.map((s) => (s === 'model' ? '#000' : '#333'));
  return {
    type: 'bar',
    data: {
      datasets: [{
        data: stats.map((s, i) => ({ x: [s[1], s[3]], y: i })),
        backgroundColor: colors,
        borderWidth: 0,
        borderSkipped: false,
        categoryPercentage: 1,
        barPercentage: 0.8,
      }],
    },
    options: baseOptions({
      x: axisCfg(0, xMax, xTicks, xFmt, false),
      y: axisCfg(-0.45, 24.05, topTickPositions, (v, i) => altitudeLabels[i], true, showY),
    }, 'y'),
    plugins: [bgPlugin, boxPlugin(stats, dashed, wcol, 0.4, 0.22, false), framePlugin],
  };
}

function makeBiasConfig(stats, outliers, xMin, xMax, xTicks, showY) {
  const colors = biasCampaign.map((c) => (c === 'CAST' ? BLUE : RED));
  const dashed = biasCampaign.map(() => false);
  const wcol = biasCampaign.map(() => '#555');
  const out = [];
  for (let i = 0; i < outliers.length; i += 2) out.push({ x: outliers[i], y: outliers[i + 1] });
  return {
    type: 'bar',
    data: {
      datasets: [
        {
          type: 'scatter',
          data: out,
          pointStyle: 'cross',
          pointRadius: 3,
          borderColor: '#000',
          borderWidth: 1,
          backgroundColor: '#000',
        },
        {
          data: stats.map((s, i) => ({ x: [s[1], s[3]], y: i })),
          backgroundColor: colors,
          borderWidth: 0,
          borderSkipped: false,
          categoryPercentage: 1,
          barPercentage: 0.86,
        },
      ],
    },
    options: baseOptions({
      x: axisCfg(xMin, xMax, xTicks, fmtInt, false),
      y: axisCfg(-0.97, 13.03, biasTickPositions, (v, i) => altitudeLabels[i], true, showY),
    }, 'y'),
    plugins: [bgPlugin, boxPlugin(stats, dashed, wcol, 0.43, 0.22, true), framePlugin],
  };
}

function makeScatterConfig(cast, contrast, oneToOne, fitContrast, fitCast, lim, xTicks, yTicks, notes) {
  const line = (arr, color) => ({
    data: toPts(arr),
    showLine: true,
    borderColor: color,
    borderWidth: 1.5,
    borderDash: [5, 3],
    pointRadius: 0,
    fill: false,
  });
  return {
    type: 'scatter',
    data: {
      datasets: [
        line(oneToOne, '#000'),
        line(fitContrast, RED),
        line(fitCast, BLUE),
        { data: toPts(contrast), backgroundColor: RED, borderWidth: 0, pointRadius: 3.6 },
        { data: toPts(cast), backgroundColor: BLUE, borderWidth: 0, pointRadius: 3.6 },
      ],
    },
    options: baseOptions({
      x: axisCfg(lim[0], lim[1], xTicks, fmt1, false),
      y: axisCfg(lim[0], lim[1], yTicks, fmt1, true),
    }, 'x'),
    plugins: [bgPlugin, framePlugin, notesPlugin(notes)],
  };
}

function ChartBox({ plot, make }) {
  const ref = useRef(null);
  useEffect(() => {
    const chart = new Chart(ref.current, make());
    return () => chart.destroy();
  }, []);
  const w = plot.w + YW + PR;
  const h = plot.h + PT + XH;
  return (
    <canvas
      ref={ref}
      width={w}
      height={h}
      style={{ position: 'absolute', left: plot.l - YW, top: plot.t - PT, width: w, height: h }}
    />
  );
}

function Label({ x, y, size = 13, rotate = false, family = FONT, color = '#000', children }) {
  return (
    <div
      style={{
        position: 'absolute', left: x, top: y,
        transform: `translate(-50%, -50%)${rotate ? ' rotate(-90deg)' : ''}`,
        fontFamily: family, fontSize: size, color, whiteSpace: 'nowrap', lineHeight: 1,
      }}
    >
      {children}
    </div>
  );
}

const subStyle = { fontSize: '0.7em', verticalAlign: '-0.25em', lineHeight: 0 };
const CHBr3 = () => (<span>CHBr<span style={subStyle}>3</span></span>);
const CH2Br2 = () => (<span>CH<span style={subStyle}>2</span>Br<span style={subStyle}>2</span></span>);

function Legend({ y, cast, contrast, obs, model }) {
  const text = { position: 'absolute', top: y - 8, fontFamily: FONT, fontSize: 13, lineHeight: '16px', whiteSpace: 'nowrap' };
  return (
    <>
      <div style={{ position: 'absolute', left: cast, top: y - 5, width: 36, height: 10, background: BLUE }} />
      <div style={{ ...text, left: cast + 43 }}>CAST</div>
      <div style={{ position: 'absolute', left: contrast, top: y - 5, width: 36, height: 10, background: RED }} />
      <div style={{ ...text, left: contrast + 42 }}>CONTRAST</div>
      <div style={{ position: 'absolute', left: obs, top: y - 1, width: 27, height: 0, borderTop: '2px solid #000' }} />
      <div style={{ ...text, left: obs + 38 }}>Observation</div>
      <div style={{ position: 'absolute', left: model, top: y - 1, width: 26, height: 0, borderTop: '2px dotted #000' }} />
      <div style={{ ...text, left: model + 37 }}>Model</div>
    </>
  );
}

export default function App() {
  return (
    <div style={{ position: 'fixed', left: 0, top: 0, width: 1058, height: 773, background: '#fff', overflow: 'hidden' }}>
      <Label x={291} y={22} size={22} family={SERIF}>Original Liang emissions</Label>
      <Label x={785} y={22} size={22} family={SERIF}>Ziska emissions</Label>

      <Label x={175} y={60} size={16.5}><CHBr3 /></Label>
      <Label x={409} y={60} size={16.5}><CH2Br2 /></Label>
      <Label x={713} y={58} size={16.5}><CHBr3 /></Label>
      <Label x={946} y={57} size={16.5}><CH2Br2 /></Label>

      <Label x={175} y={288} size={13.5}>Observed VSLS / pptv</Label>
      <Label x={409} y={288} size={13.5}>Observed VSLS / pptv</Label>
      <Label x={713} y={286} size={13.5}>Observed VSLS / pptv</Label>
      <Label x={946} y={286} size={13.5}>Observed VSLS / pptv</Label>
      <Label x={176} y={515} size={13.5}>Observed VSLS / pptv</Label>
      <Label x={409} y={515} size={13.5}>Observed VSLS / pptv</Label>
      <Label x={713} y={512} size={13.5}>Observed VSLS / pptv</Label>
      <Label x={946} y={512} size={13.5}>Observed VSLS / pptv</Label>

      <Label x={20} y={167} size={15} rotate>Altitude / km</Label>
      <Label x={557} y={164} size={15} rotate>Altitude / km</Label>
      <Label x={37} y={393} size={15} rotate>Model VSLS / pptv</Label>
      <Label x={575} y={390} size={15} rotate>Model VSLS / pptv</Label>
      <Label x={20} y={618} size={15} rotate>Altitude / km</Label>
      <Label x={557} y={614} size={15} rotate>Altitude / km</Label>

      <Label x={176} y={740} size={15}>(Model - observed)/observed</Label>
      <Label x={409} y={740} size={15}>(Model - observed)/observed</Label>
      <Label x={713} y={738} size={15}>(Model - observed)/observed</Label>
      <Label x={946} y={738} size={15}>(Model - observed)/observed</Label>

      <ChartBox plot={panels.LT1} make={() => makeTopConfig(liangCHBr3Boxes, 3.16, chbr3ObsTicks, (v) => String(v), true)} />
      <ChartBox plot={panels.LT2} make={() => makeTopConfig(liangCH2Br2Boxes, 2.0, ch2br2ObsTicks, fmt1, false)} />
      <ChartBox plot={panels.RT1} make={() => makeTopConfig(ziskaCHBr3Boxes, 3.2, chbr3ObsTicks, (v) => String(v), true)} />
      <ChartBox plot={panels.RT2} make={() => makeTopConfig(ziskaCH2Br2Boxes, 2.0, ch2br2ObsTicks, fmt1, false)} />

      <ChartBox plot={panels.LM1} make={() => makeScatterConfig(liangCHBr3CastPts, liangCHBr3ContrastPts, liangCHBr3OneToOne,
        liangCHBr3FitContrast, liangCHBr3FitCast, [0, 3], chbr3ScatterTicks, chbr3ScatterTicks, [
          { text: liangCHBr3Stats[0], x: 1.49, y: 0.83, color: BLUE },
          { text: liangCHBr3Stats[1], x: 1.49, y: 0.62, color: RED },
          { text: liangCHBr3Stats[2], x: 1.49, y: 0.41, color: '#000' },
        ])} />
      <ChartBox plot={panels.LM2} make={() => makeScatterConfig(liangCH2Br2CastPts, liangCH2Br2ContrastPts, liangCH2Br2OneToOne,
        liangCH2Br2FitContrast, liangCH2Br2FitCast, [0.4, 2.0], ch2br2ScatterXTicks, ch2br2ScatterYTicks, [
          { text: liangCH2Br2Stats[0], x: 1.1, y: 0.94, color: RED },
          { text: liangCH2Br2Stats[1], x: 1.1, y: 0.83, color: BLUE },
          { text: liangCH2Br2Stats[2], x: 1.1, y: 0.73, color: '#000' },
        ])} />
      <ChartBox plot={panels.RM1} make={() => makeScatterConfig(ziskaCHBr3CastPts, ziskaCHBr3ContrastPts, ziskaCHBr3OneToOne,
        ziskaCHBr3FitContrast, ziskaCHBr3FitCast, [0, 3], chbr3ScatterTicks, chbr3ScatterTicks, [
          { text: ziskaCHBr3Stats[0], x: 0.5, y: 2.59, color: BLUE },
          { text: ziskaCHBr3Stats[1], x: 0.5, y: 2.39, color: RED },
          { text: ziskaCHBr3Stats[2], x: 0.5, y: 2.19, color: '#000' },
        ])} />
      <ChartBox plot={panels.RM2} make={() => makeScatterConfig(ziskaCH2Br2CastPts, ziskaCH2Br2ContrastPts, ziskaCH2Br2OneToOne,
        ziskaCH2Br2FitContrast, ziskaCH2Br2FitCast, [0.4, 2.0], ch2br2ScatterXTicks, ch2br2ScatterYTicks, [
          { text: ziskaCH2Br2Stats[0], x: 1.11, y: 0.95, color: RED },
          { text: ziskaCH2Br2Stats[1], x: 1.11, y: 0.84, color: BLUE },
          { text: ziskaCH2Br2Stats[2], x: 1.11, y: 0.73, color: '#000' },
        ])} />

      <ChartBox plot={panels.LB1} make={() => makeBiasConfig(liangCHBr3BiasBoxes, liangCHBr3BiasOutliers, -1.5, 4, chbr3BiasTicks, true)} />
      <ChartBox plot={panels.LB2} make={() => makeBiasConfig(liangCH2Br2BiasBoxes, liangCH2Br2BiasOutliers, -0.2, 3, ch2br2BiasTicks, false)} />
      <ChartBox plot={panels.RB1} make={() => makeBiasConfig(ziskaCHBr3BiasBoxes, ziskaCHBr3BiasOutliers, -1.5, 4, chbr3BiasTicks, true)} />
      <ChartBox plot={panels.RB2} make={() => makeBiasConfig(ziskaCH2Br2BiasBoxes, ziskaCH2Br2BiasOutliers, -0.2, 3, ch2br2BiasTicks, false)} />

      <Legend y={766} cast={47} contrast={147} obs={289} model={437} />
      <Legend y={762} cast={583} contrast={684} obs={827} model={973} />
    </div>
  );
}
